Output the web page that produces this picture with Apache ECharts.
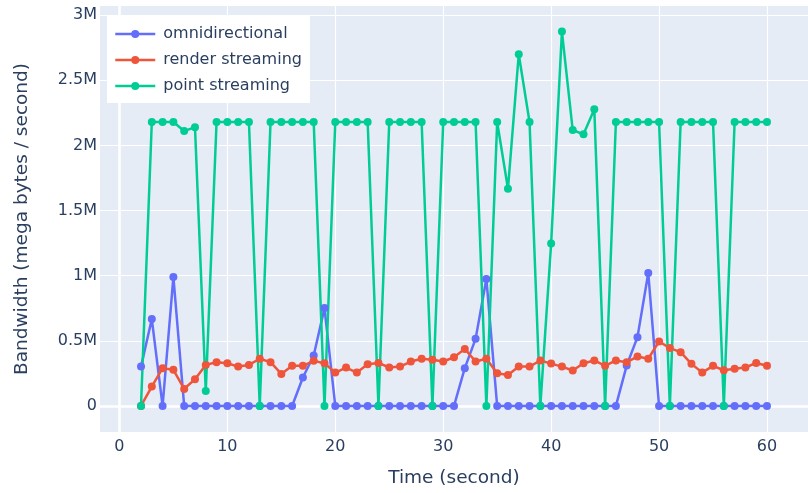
<!DOCTYPE html>
<html>
<head>
<meta charset="utf-8">
<script src="https://cdn.jsdelivr.net/npm/echarts@6/dist/echarts.min.js"></script>
<style>
html,body{margin:0;padding:0;background:#fff;}
#chart{width:808px;height:493px;}
</style>
</head>
<body>
<div id="chart"></div>
<script>
// Time in seconds
const timeSeconds = [2,3,4,5,6,7,8,9,10,11,12,13,14,15,16,17,18,19,20,21,22,23,24,25,26,27,28,29,30,31,32,33,34,35,36,37,38,39,40,41,42,43,44,45,46,47,48,49,50,51,52,53,54,55,56,57,58,59,60];

const omnidirectional = [302000,667000,0,990000,0,0,0,0,0,0,0,0,0,0,0,218000,387000,751000,0,0,0,0,0,0,0,0,0,0,0,0,290000,515000,975000,0,0,0,0,0,0,0,0,0,0,0,0,310000,528000,1020000,0,0,0,0,0,0,0,0,0,0,0];

const renderStreaming = [0,149000,290000,277000,131000,205000,315000,336000,328000,302000,315000,362000,336000,246000,308000,308000,346000,328000,256000,295000,256000,320000,330000,295000,302000,341000,362000,354000,341000,374000,438000,341000,362000,251000,238000,302000,302000,349000,325000,302000,272000,328000,349000,308000,349000,336000,379000,362000,495000,444000,413000,323000,256000,308000,274000,285000,295000,330000,308000];

const pointStreaming = [0,2180000,2180000,2180000,2110000,2140000,115000,2180000,2180000,2180000,2180000,0,2180000,2180000,2180000,2180000,2180000,0,2180000,2180000,2180000,2180000,0,2180000,2180000,2180000,2180000,0,2180000,2180000,2180000,2180000,0,2180000,1667000,2700000,2180000,0,1246000,2874000,2118000,2085000,2277000,0,2180000,2180000,2180000,2180000,2180000,0,2180000,2180000,2180000,2180000,0,2180000,2180000,2180000,2180000];

const seriesNames = ['omnidirectional','render streaming','point streaming'];
const seriesColors = ['#636efa','#EF553B','#00cc96'];
const seriesValues = [omnidirectional, renderStreaming, pointStreaming];

const FONT = 'DejaVu Sans';
const TXT = '#2a3f5f';

const chart = echarts.init(document.getElementById('chart'), null, {renderer:'canvas'});

function pairs(vals){ return timeSeconds.map((t,i)=>[t, vals[i]]); }

const series = seriesValues.map((vals, k) => ({
  name: seriesNames[k],
  type: 'line',
  data: pairs(vals),
  symbol: 'circle',
  symbolSize: 8,
  showSymbol: true,
  showAllSymbol: true,
  z: 3,
  lineStyle: {color: seriesColors[k], width: 2.5, type: 'solid'},
  itemStyle: {color: seriesColors[k]},
  emphasis: {disabled: true}
}));

// zero lines (white, thicker), drawn beneath the data
series.unshift({
  name: 'zero',
  type: 'line',
  data: [],
  z: 1,
  silent: true,
  markLine: {
    z: 1,
    silent: true,
    animation: false,
    symbol: ['none','none'],
    label: {show: false},
    lineStyle: {color: '#ffffff', width: 2.5, type: 'solid'},
    data: [{yAxis: 0}, {xAxis: 0}]
  }
});

chart.setOption({
  animation: false,
  backgroundColor: '#ffffff',
  textStyle: {fontFamily: FONT},
  grid: {
    left: 100, top: 6, right: -12.5, bottom: 60.5,
    show: true, backgroundColor: '#E5ECF6', borderWidth: 0,
    containLabel: false
  },
  legend: {
    data: seriesNames,
    orient: 'vertical',
    left: 107, top: 15,
    backgroundColor: '#ffffff',
    padding: [10, 8, 8, 7],
    itemWidth: 40, itemHeight: 10, itemGap: 8,
    lineStyle: {type: 'solid', width: 2.5},
    textStyle: {fontFamily: FONT, fontSize: 16, color: TXT, lineHeight: 18, padding: [0,0,0,3]}
  },
  xAxis: {
    type: 'value',
    min: -1.8, max: 63.8,
    splitNumber: 7,
    name: 'Time (second)',
    nameLocation: 'middle',
    nameGap: 37,
    nameTextStyle: {fontFamily: FONT, fontSize: 18.5, color: TXT},
    axisLine: {show: false},
    axisTick: {show: false},
    axisLabel: {fontFamily: FONT, fontSize: 16, color: TXT, margin: 7, showMinLabel: false, showMaxLabel: false},
    splitLine: {show: true, lineStyle: {color: '#ffffff', width: 1.2}, showMinLine: false, showMaxLine: false}
  },
  yAxis: {
    type: 'value',
    min: -200000, max: 3070000,
    splitNumber: 6,
    name: 'Bandwidth (mega bytes / second)',
    nameLocation: 'middle',
    nameGap: 68,
    nameTextStyle: {fontFamily: FONT, fontSize: 18.5, color: TXT},
    axisLine: {show: false},
    axisTick: {show: false},
    axisLabel: {
      fontFamily: FONT, fontSize: 16, color: TXT, margin: 3,
      showMinLabel: false, showMaxLabel: false,
      formatter: v => v === 0 ? '0' : (v/1e6) + 'M'
    },
    splitLine: {show: true, lineStyle: {color: '#ffffff', width: 1.2}, showMinLine: false, showMaxLine: false}
  },
  series: series
});
</script>
</body>
</html>
